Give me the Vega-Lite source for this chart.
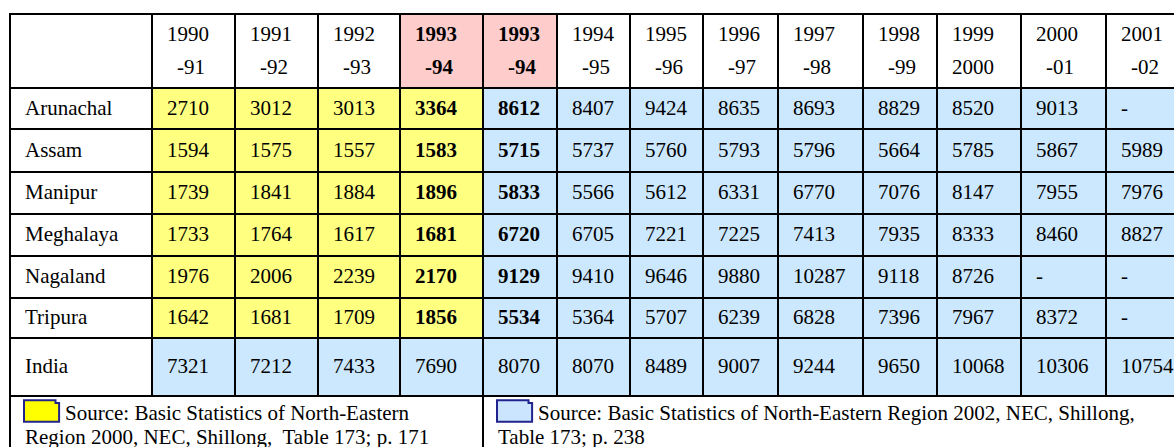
{
  "$schema": "https://vega.github.io/schema/vega-lite/v6.json",
  "width": 1174,
  "height": 447,
  "padding": 0,
  "autosize": {"type": "none"},
  "background": "#ffffff",
  "config": {"view": {"stroke": null}, "text": {"font": "Liberation Serif", "fontSize": 21, "color": "#000000"}},
  "datasets": {
    "cells": [
      {"r":0,"c":0,"v":"","w":"","src":"head"},
      {"r":0,"c":1,"v":"1990","w":"-91","src":"head"},
      {"r":0,"c":2,"v":"1991","w":"-92","src":"head"},
      {"r":0,"c":3,"v":"1992","w":"-93","src":"head"},
      {"r":0,"c":4,"v":"1993","w":"-94","src":"hl"},
      {"r":0,"c":5,"v":"1993","w":"-94","src":"hl"},
      {"r":0,"c":6,"v":"1994","w":"-95","src":"head"},
      {"r":0,"c":7,"v":"1995","w":"-96","src":"head"},
      {"r":0,"c":8,"v":"1996","w":"-97","src":"head"},
      {"r":0,"c":9,"v":"1997","w":"-98","src":"head"},
      {"r":0,"c":10,"v":"1998","w":"-99","src":"head"},
      {"r":0,"c":11,"v":"1999","w":"2000","src":"head"},
      {"r":0,"c":12,"v":"2000","w":"-01","src":"head"},
      {"r":0,"c":13,"v":"2001","w":"-02","src":"head"},

      {"r":1,"c":0,"v":"Arunachal","src":"label"},
      {"r":1,"c":1,"v":"2710","src":"2000"},
      {"r":1,"c":2,"v":"3012","src":"2000"},
      {"r":1,"c":3,"v":"3013","src":"2000"},
      {"r":1,"c":4,"v":"3364","src":"2000"},
      {"r":1,"c":5,"v":"8612","src":"2002"},
      {"r":1,"c":6,"v":"8407","src":"2002"},
      {"r":1,"c":7,"v":"9424","src":"2002"},
      {"r":1,"c":8,"v":"8635","src":"2002"},
      {"r":1,"c":9,"v":"8693","src":"2002"},
      {"r":1,"c":10,"v":"8829","src":"2002"},
      {"r":1,"c":11,"v":"8520","src":"2002"},
      {"r":1,"c":12,"v":"9013","src":"2002"},
      {"r":1,"c":13,"v":"-","src":"2002"},

      {"r":2,"c":0,"v":"Assam","src":"label"},
      {"r":2,"c":1,"v":"1594","src":"2000"},
      {"r":2,"c":2,"v":"1575","src":"2000"},
      {"r":2,"c":3,"v":"1557","src":"2000"},
      {"r":2,"c":4,"v":"1583","src":"2000"},
      {"r":2,"c":5,"v":"5715","src":"2002"},
      {"r":2,"c":6,"v":"5737","src":"2002"},
      {"r":2,"c":7,"v":"5760","src":"2002"},
      {"r":2,"c":8,"v":"5793","src":"2002"},
      {"r":2,"c":9,"v":"5796","src":"2002"},
      {"r":2,"c":10,"v":"5664","src":"2002"},
      {"r":2,"c":11,"v":"5785","src":"2002"},
      {"r":2,"c":12,"v":"5867","src":"2002"},
      {"r":2,"c":13,"v":"5989","src":"2002"},

      {"r":3,"c":0,"v":"Manipur","src":"label"},
      {"r":3,"c":1,"v":"1739","src":"2000"},
      {"r":3,"c":2,"v":"1841","src":"2000"},
      {"r":3,"c":3,"v":"1884","src":"2000"},
      {"r":3,"c":4,"v":"1896","src":"2000"},
      {"r":3,"c":5,"v":"5833","src":"2002"},
      {"r":3,"c":6,"v":"5566","src":"2002"},
      {"r":3,"c":7,"v":"5612","src":"2002"},
      {"r":3,"c":8,"v":"6331","src":"2002"},
      {"r":3,"c":9,"v":"6770","src":"2002"},
      {"r":3,"c":10,"v":"7076","src":"2002"},
      {"r":3,"c":11,"v":"8147","src":"2002"},
      {"r":3,"c":12,"v":"7955","src":"2002"},
      {"r":3,"c":13,"v":"7976","src":"2002"},

      {"r":4,"c":0,"v":"Meghalaya","src":"label"},
      {"r":4,"c":1,"v":"1733","src":"2000"},
      {"r":4,"c":2,"v":"1764","src":"2000"},
      {"r":4,"c":3,"v":"1617","src":"2000"},
      {"r":4,"c":4,"v":"1681","src":"2000"},
      {"r":4,"c":5,"v":"6720","src":"2002"},
      {"r":4,"c":6,"v":"6705","src":"2002"},
      {"r":4,"c":7,"v":"7221","src":"2002"},
      {"r":4,"c":8,"v":"7225","src":"2002"},
      {"r":4,"c":9,"v":"7413","src":"2002"},
      {"r":4,"c":10,"v":"7935","src":"2002"},
      {"r":4,"c":11,"v":"8333","src":"2002"},
      {"r":4,"c":12,"v":"8460","src":"2002"},
      {"r":4,"c":13,"v":"8827","src":"2002"},

      {"r":5,"c":0,"v":"Nagaland","src":"label"},
      {"r":5,"c":1,"v":"1976","src":"2000"},
      {"r":5,"c":2,"v":"2006","src":"2000"},
      {"r":5,"c":3,"v":"2239","src":"2000"},
      {"r":5,"c":4,"v":"2170","src":"2000"},
      {"r":5,"c":5,"v":"9129","src":"2002"},
      {"r":5,"c":6,"v":"9410","src":"2002"},
      {"r":5,"c":7,"v":"9646","src":"2002"},
      {"r":5,"c":8,"v":"9880","src":"2002"},
      {"r":5,"c":9,"v":"10287","src":"2002"},
      {"r":5,"c":10,"v":"9118","src":"2002"},
      {"r":5,"c":11,"v":"8726","src":"2002"},
      {"r":5,"c":12,"v":"-","src":"2002"},
      {"r":5,"c":13,"v":"-","src":"2002"},

      {"r":6,"c":0,"v":"Tripura","src":"label"},
      {"r":6,"c":1,"v":"1642","src":"2000"},
      {"r":6,"c":2,"v":"1681","src":"2000"},
      {"r":6,"c":3,"v":"1709","src":"2000"},
      {"r":6,"c":4,"v":"1856","src":"2000"},
      {"r":6,"c":5,"v":"5534","src":"2002"},
      {"r":6,"c":6,"v":"5364","src":"2002"},
      {"r":6,"c":7,"v":"5707","src":"2002"},
      {"r":6,"c":8,"v":"6239","src":"2002"},
      {"r":6,"c":9,"v":"6828","src":"2002"},
      {"r":6,"c":10,"v":"7396","src":"2002"},
      {"r":6,"c":11,"v":"7967","src":"2002"},
      {"r":6,"c":12,"v":"8372","src":"2002"},
      {"r":6,"c":13,"v":"-","src":"2002"},

      {"r":7,"c":0,"v":"India","src":"label"},
      {"r":7,"c":1,"v":"7321","src":"2002"},
      {"r":7,"c":2,"v":"7212","src":"2002"},
      {"r":7,"c":3,"v":"7433","src":"2002"},
      {"r":7,"c":4,"v":"7690","src":"2002"},
      {"r":7,"c":5,"v":"8070","src":"2002"},
      {"r":7,"c":6,"v":"8070","src":"2002"},
      {"r":7,"c":7,"v":"8489","src":"2002"},
      {"r":7,"c":8,"v":"9007","src":"2002"},
      {"r":7,"c":9,"v":"9244","src":"2002"},
      {"r":7,"c":10,"v":"9650","src":"2002"},
      {"r":7,"c":11,"v":"10068","src":"2002"},
      {"r":7,"c":12,"v":"10306","src":"2002"},
      {"r":7,"c":13,"v":"10754","src":"2002"}
    ],
    "footer": [
      {"r":8,"c":0,"span":5,"src":"2000","l1":"Source: Basic Statistics of North-Eastern","l2":"Region 2000, NEC, Shillong,\u00a0 Table 173; p. 171"},
      {"r":8,"c":5,"span":9,"src":"2002","l1":"Source: Basic Statistics of North-Eastern Region 2002, NEC, Shillong,","l2":"Table 173; p. 238"}
    ]
  },
  "layer": [
    {
      "data": {"name": "cells"},
      "transform": [{"calculate": "datum.c + 1", "as": "c2"}, {"calculate": "datum.r + 1", "as": "r2"}],
      "mark": {"type": "rect", "stroke": "#000000", "strokeWidth": 2},
      "encoding": {
        "x": {"field": "c", "type": "quantitative", "axis": null, "scale": {"type": "linear", "domain": [0,1,2,3,4,5,6,7,8,9,10,11,12,13,14], "range": [10,152,235,318,400,483,557,630,703,778,863,937,1021,1106,1190], "zero": false, "nice": false}},
        "x2": {"field": "c2"},
        "y": {"field": "r", "type": "quantitative", "axis": null, "scale": {"type": "linear", "domain": [0,1,2,3,4,5,6,7,8,9], "range": [14,88,129,172,214,256,298,338,396,480], "zero": false, "nice": false}},
        "y2": {"field": "r2"},
        "fill": {"field": "src", "type": "nominal", "legend": null, "scale": {"domain": ["head","hl","label","2000","2002"], "range": ["#ffffff","#ffcccc","#ffffff","#ffff80","#cce8ff"]}}
      }
    },
    {
      "data": {"name": "footer"},
      "transform": [{"calculate": "datum.c + datum.span", "as": "c2"}, {"calculate": "datum.r + 1", "as": "r2"}],
      "mark": {"type": "rect", "stroke": "#000000", "strokeWidth": 2, "fill": "#ffffff"},
      "encoding": {
        "x": {"field": "c", "type": "quantitative", "axis": null, "scale": {"type": "linear", "domain": [0,1,2,3,4,5,6,7,8,9,10,11,12,13,14], "range": [10,152,235,318,400,483,557,630,703,778,863,937,1021,1106,1190], "zero": false, "nice": false}},
        "x2": {"field": "c2"},
        "y": {"field": "r", "type": "quantitative", "axis": null, "scale": {"type": "linear", "domain": [0,1,2,3,4,5,6,7,8,9], "range": [14,88,129,172,214,256,298,338,396,480], "zero": false, "nice": false}},
        "y2": {"field": "r2"}
      }
    },
    {
      "data": {"name": "cells"},
      "transform": [{"filter": "datum.r >= 1 && !(datum.r < 7 && (datum.c == 4 || datum.c == 5))"}, {"calculate": "datum.r + 0.5", "as": "ym"}],
      "mark": {"type": "text", "align": "left", "baseline": "middle", "dx": 15},
      "encoding": {
        "x": {"field": "c", "type": "quantitative", "axis": null, "scale": {"type": "linear", "domain": [0,1,2,3,4,5,6,7,8,9,10,11,12,13,14], "range": [10,152,235,318,400,483,557,630,703,778,863,937,1021,1106,1190], "zero": false, "nice": false}},
        "y": {"field": "ym", "type": "quantitative", "axis": null, "scale": {"type": "linear", "domain": [0,1,2,3,4,5,6,7,8,9], "range": [14,88,129,172,214,256,298,338,396,480], "zero": false, "nice": false}},
        "text": {"field": "v"}
      }
    },
    {
      "data": {"name": "cells"},
      "transform": [{"filter": "datum.r >= 1 && datum.r < 7 && (datum.c == 4 || datum.c == 5)"}, {"calculate": "datum.r + 0.5", "as": "ym"}],
      "mark": {"type": "text", "align": "left", "baseline": "middle", "dx": 15, "fontWeight": "bold"},
      "encoding": {
        "x": {"field": "c", "type": "quantitative", "axis": null, "scale": {"type": "linear", "domain": [0,1,2,3,4,5,6,7,8,9,10,11,12,13,14], "range": [10,152,235,318,400,483,557,630,703,778,863,937,1021,1106,1190], "zero": false, "nice": false}},
        "y": {"field": "ym", "type": "quantitative", "axis": null, "scale": {"type": "linear", "domain": [0,1,2,3,4,5,6,7,8,9], "range": [14,88,129,172,214,256,298,338,396,480], "zero": false, "nice": false}},
        "text": {"field": "v"}
      }
    },
    {
      "data": {"name": "cells"},
      "transform": [{"filter": "datum.r == 0 && datum.c != 4 && datum.c != 5"}, {"calculate": "datum.r + 0.5", "as": "ym"}],
      "mark": {"type": "text", "align": "left", "baseline": "middle", "dx": 15, "dy": -16},
      "encoding": {
        "x": {"field": "c", "type": "quantitative", "axis": null, "scale": {"type": "linear", "domain": [0,1,2,3,4,5,6,7,8,9,10,11,12,13,14], "range": [10,152,235,318,400,483,557,630,703,778,863,937,1021,1106,1190], "zero": false, "nice": false}},
        "y": {"field": "ym", "type": "quantitative", "axis": null, "scale": {"type": "linear", "domain": [0,1,2,3,4,5,6,7,8,9], "range": [14,88,129,172,214,256,298,338,396,480], "zero": false, "nice": false}},
        "text": {"field": "v"}
      }
    },
    {
      "data": {"name": "cells"},
      "transform": [{"filter": "datum.r == 0 && datum.c != 4 && datum.c != 5 && datum.c != 11"}, {"calculate": "datum.r + 0.5", "as": "ym"}],
      "mark": {"type": "text", "align": "left", "baseline": "middle", "dx": 25, "dy": 17},
      "encoding": {
        "x": {"field": "c", "type": "quantitative", "axis": null, "scale": {"type": "linear", "domain": [0,1,2,3,4,5,6,7,8,9,10,11,12,13,14], "range": [10,152,235,318,400,483,557,630,703,778,863,937,1021,1106,1190], "zero": false, "nice": false}},
        "y": {"field": "ym", "type": "quantitative", "axis": null, "scale": {"type": "linear", "domain": [0,1,2,3,4,5,6,7,8,9], "range": [14,88,129,172,214,256,298,338,396,480], "zero": false, "nice": false}},
        "text": {"field": "w"}
      }
    },
    {
      "data": {"name": "cells"},
      "transform": [{"filter": "datum.r == 0 && datum.c == 11"}, {"calculate": "datum.r + 0.5", "as": "ym"}],
      "mark": {"type": "text", "align": "left", "baseline": "middle", "dx": 15, "dy": 17},
      "encoding": {
        "x": {"field": "c", "type": "quantitative", "axis": null, "scale": {"type": "linear", "domain": [0,1,2,3,4,5,6,7,8,9,10,11,12,13,14], "range": [10,152,235,318,400,483,557,630,703,778,863,937,1021,1106,1190], "zero": false, "nice": false}},
        "y": {"field": "ym", "type": "quantitative", "axis": null, "scale": {"type": "linear", "domain": [0,1,2,3,4,5,6,7,8,9], "range": [14,88,129,172,214,256,298,338,396,480], "zero": false, "nice": false}},
        "text": {"field": "w"}
      }
    },
    {
      "data": {"name": "cells"},
      "transform": [{"filter": "datum.r == 0 && (datum.c == 4 || datum.c == 5)"}, {"calculate": "datum.r + 0.5", "as": "ym"}],
      "mark": {"type": "text", "align": "left", "baseline": "middle", "dx": 15, "dy": -16, "fontWeight": "bold"},
      "encoding": {
        "x": {"field": "c", "type": "quantitative", "axis": null, "scale": {"type": "linear", "domain": [0,1,2,3,4,5,6,7,8,9,10,11,12,13,14], "range": [10,152,235,318,400,483,557,630,703,778,863,937,1021,1106,1190], "zero": false, "nice": false}},
        "y": {"field": "ym", "type": "quantitative", "axis": null, "scale": {"type": "linear", "domain": [0,1,2,3,4,5,6,7,8,9], "range": [14,88,129,172,214,256,298,338,396,480], "zero": false, "nice": false}},
        "text": {"field": "v"}
      }
    },
    {
      "data": {"name": "cells"},
      "transform": [{"filter": "datum.r == 0 && (datum.c == 4 || datum.c == 5)"}, {"calculate": "datum.r + 0.5", "as": "ym"}],
      "mark": {"type": "text", "align": "left", "baseline": "middle", "dx": 25, "dy": 17, "fontWeight": "bold"},
      "encoding": {
        "x": {"field": "c", "type": "quantitative", "axis": null, "scale": {"type": "linear", "domain": [0,1,2,3,4,5,6,7,8,9,10,11,12,13,14], "range": [10,152,235,318,400,483,557,630,703,778,863,937,1021,1106,1190], "zero": false, "nice": false}},
        "y": {"field": "ym", "type": "quantitative", "axis": null, "scale": {"type": "linear", "domain": [0,1,2,3,4,5,6,7,8,9], "range": [14,88,129,172,214,256,298,338,396,480], "zero": false, "nice": false}},
        "text": {"field": "w"}
      }
    },
    {
      "data": {"name": "footer"},
      "mark": {"type": "point", "filled": true, "size": 1296, "xOffset": 32, "yOffset": 15, "stroke": "#23238e", "strokeWidth": 2, "opacity": 1, "shape": "M -1 -0.6 L 0.75 -0.6 L 0.75 -0.45 L 0.95 -0.45 L 0.95 0.6 L -1 0.6 Z"},
      "encoding": {
        "x": {"field": "c", "type": "quantitative", "axis": null, "scale": {"type": "linear", "domain": [0,1,2,3,4,5,6,7,8,9,10,11,12,13,14], "range": [10,152,235,318,400,483,557,630,703,778,863,937,1021,1106,1190], "zero": false, "nice": false}},
        "y": {"field": "r", "type": "quantitative", "axis": null, "scale": {"type": "linear", "domain": [0,1,2,3,4,5,6,7,8,9], "range": [14,88,129,172,214,256,298,338,396,480], "zero": false, "nice": false}},
        "fill": {"condition": {"test": "datum.src == '2000'", "value": "#ffff00"}, "value": "#cce5ff"}
      }
    },
    {
      "data": {"name": "footer"},
      "mark": {"type": "text", "align": "left", "baseline": "middle", "dx": 55, "dy": 18},
      "encoding": {
        "x": {"field": "c", "type": "quantitative", "axis": null, "scale": {"type": "linear", "domain": [0,1,2,3,4,5,6,7,8,9,10,11,12,13,14], "range": [10,152,235,318,400,483,557,630,703,778,863,937,1021,1106,1190], "zero": false, "nice": false}},
        "y": {"field": "r", "type": "quantitative", "axis": null, "scale": {"type": "linear", "domain": [0,1,2,3,4,5,6,7,8,9], "range": [14,88,129,172,214,256,298,338,396,480], "zero": false, "nice": false}},
        "text": {"field": "l1"}
      }
    },
    {
      "data": {"name": "footer"},
      "mark": {"type": "text", "align": "left", "baseline": "middle", "dx": 15, "dy": 42},
      "encoding": {
        "x": {"field": "c", "type": "quantitative", "axis": null, "scale": {"type": "linear", "domain": [0,1,2,3,4,5,6,7,8,9,10,11,12,13,14], "range": [10,152,235,318,400,483,557,630,703,778,863,937,1021,1106,1190], "zero": false, "nice": false}},
        "y": {"field": "r", "type": "quantitative", "axis": null, "scale": {"type": "linear", "domain": [0,1,2,3,4,5,6,7,8,9], "range": [14,88,129,172,214,256,298,338,396,480], "zero": false, "nice": false}},
        "text": {"field": "l2"}
      }
    }
  ]
}
